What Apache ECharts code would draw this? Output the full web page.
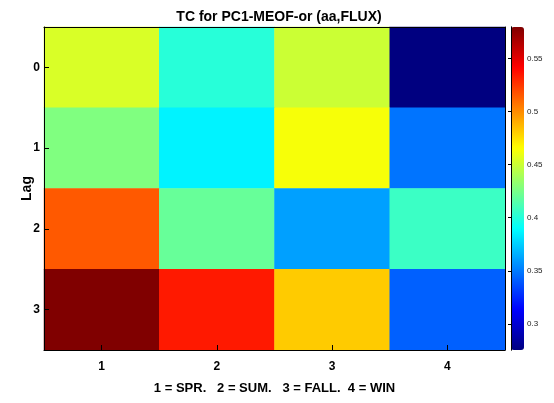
<!DOCTYPE html>
<html>
<head>
<meta charset="utf-8">
<script src="https://cdn.jsdelivr.net/npm/echarts@6/dist/echarts.min.js"></script>
<style>
html,body{margin:0;padding:0;background:#fff;}
#chart{width:554px;height:403px;}
</style>
</head>
<body>
<div id="chart"></div>
<script>
const seasons = ['1', '2', '3', '4'];
const lags = ['0', '1', '2', '3'];
const lag0 = [0.454, 0.401, 0.450, 0.2755];
const lag1 = [0.4275, 0.386, 0.463, 0.348];
const lag2 = [0.515, 0.420, 0.361, 0.407];
const lag3 = [0.5795, 0.534, 0.481, 0.342];
const cbTicks = [0.3, 0.35, 0.4, 0.45, 0.5, 0.55];

const rows = [lag0, lag1, lag2, lag3];
const data = [];
rows.forEach((row, yi) => row.forEach((v, xi) => data.push([xi, yi, v])));
const all = rows.flat();
const vmin = Math.min(...all);
const vmax = Math.max(...all);

const jet = ['#000080', '#0000ff', '#0080ff', '#00ffff', '#80ff80', '#ffff00', '#ff8000', '#ff0000', '#800000'];
const font = 'Liberation Sans';

const chart = echarts.init(document.getElementById('chart'), null, {renderer: 'canvas'});
chart.setOption({
  animation: false,
  backgroundColor: '#fff',
  title: {
    text: 'TC for PC1-MEOF-or (aa,FLUX)',
    left: 274, top: 5, textAlign: 'center',
    textStyle: {fontFamily: font, fontWeight: 'bold', fontSize: 14, color: '#000'}
  },
  grid: [
    {left: 44, right: 49, top: 27, bottom: 53, show: false},
    {left: 511, width: 13, top: 27, bottom: 53, show: false}
  ],
  xAxis: [
    {
      type: 'category', data: seasons, gridIndex: 0, position: 'bottom', z: 10,
      name: '1 = SPR.   2 = SUM.   3 = FALL.  4 = WIN',
      nameLocation: 'middle', nameGap: 32, nameMoveOverlap: false,
      nameTextStyle: {fontFamily: font, fontWeight: 'bold', fontSize: 13, color: '#000'},
      axisLine: {show: true, lineStyle: {color: '#000', width: 1}},
      axisTick: {show: true, inside: true, alignWithLabel: true, length: 5, lineStyle: {color: '#000'}},
      axisLabel: {fontFamily: font, fontWeight: 'bold', fontSize: 12, color: '#000', margin: 11},
      splitLine: {show: false}
    },
    {
      type: 'category', data: seasons, gridIndex: 0, position: 'top', z: 10,
      axisLine: {show: true, lineStyle: {color: '#000', width: 1}},
      axisTick: {show: false}, axisLabel: {show: false}, splitLine: {show: false}
    },
    {
      type: 'value', gridIndex: 1, show: false, min: 0, max: 1
    }
  ],
  yAxis: [
    {
      type: 'category', data: lags, gridIndex: 0, inverse: true, position: 'left', z: 10,
      name: 'Lag', nameLocation: 'middle', nameGap: 10, nameRotate: 90, nameMoveOverlap: false,
      nameTextStyle: {fontFamily: font, fontWeight: 'bold', fontSize: 14, color: '#000'},
      axisLine: {show: true, lineStyle: {color: '#000', width: 1}},
      axisTick: {show: true, inside: true, alignWithLabel: true, length: 5, lineStyle: {color: '#000'}},
      axisLabel: {fontFamily: font, fontWeight: 'bold', fontSize: 12, color: '#000', margin: 4},
      splitLine: {show: false}
    },
    {
      type: 'category', data: lags, gridIndex: 0, inverse: true, position: 'right', z: 10,
      axisLine: {show: true, lineStyle: {color: '#000', width: 1}},
      axisTick: {show: false}, axisLabel: {show: false}, splitLine: {show: false}
    },
    {
      type: 'value', gridIndex: 1, position: 'right', min: vmin, max: vmax, z: 10,
      axisLine: {show: true, lineStyle: {color: '#000', width: 1}},
      axisTick: {show: true, inside: true, length: 3, customValues: cbTicks, lineStyle: {color: '#000'}},
      axisLabel: {customValues: cbTicks, fontFamily: font, fontSize: 8, color: '#222', margin: 3,
        formatter: v => String(v)},
      splitLine: {show: false}
    },
    {
      type: 'value', gridIndex: 1, position: 'left', min: vmin, max: vmax, z: 10,
      axisLine: {show: true, lineStyle: {color: '#000', width: 1}},
      axisTick: {show: false}, axisLabel: {show: false}, splitLine: {show: false}
    }
  ],
  visualMap: {
    type: 'continuous', seriesIndex: 0, min: vmin, max: vmax,
    inRange: {color: jet},
    calculable: false, show: true, orient: 'vertical',
    left: 511, top: 27, itemWidth: 13, itemHeight: 323, padding: 0,
    text: null, showLabel: false, hoverLink: false, z: 1
  },
  series: [
    {
      type: 'heatmap', xAxisIndex: 0, yAxisIndex: 0, data: data,
      itemStyle: {borderWidth: 0},
      emphasis: {disabled: true},
      progressive: 0
    },
    {
      type: 'line', xAxisIndex: 2, yAxisIndex: 3, data: [], silent: true
    }
  ]
});
</script>
</body>
</html>
